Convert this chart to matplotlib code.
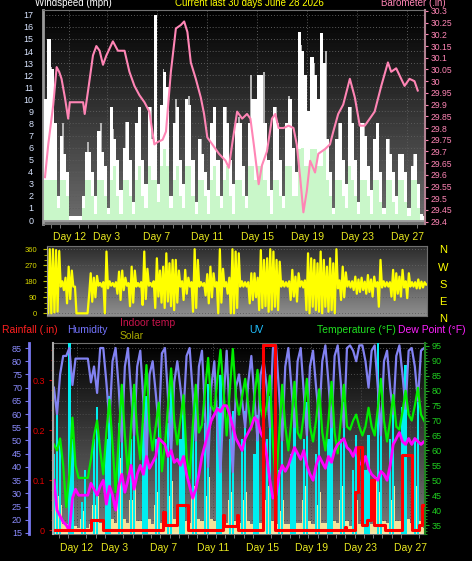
import numpy as np
import matplotlib
matplotlib.use("Agg")
import matplotlib.pyplot as plt
from matplotlib.colors import LinearSegmentedColormap
from matplotlib.ticker import MultipleLocator, FormatStrFormatter

W, H = 472, 561
PT = 72.0 / 100  # points per pixel

# x axis: days, 4 bins per day starting at day -2
day_ticks = [0, 3, 7, 11, 15, 19, 23, 27]
day_labels = ["Day 12", "Day 3", "Day 7", "Day 11", "Day 15", "Day 19", "Day 23", "Day 27"]

# windspeed (mph), 6 hour bins
wind_gust = [10, 15, 12.5, 8, 2, 7, 5.5, 4, 0.3, 0.3, 0.3, 0.3, 2, 5.6, 5.6, 4,
             2, 7.4, 5.6, 4.5, 1, 9.4, 6.7, 5, 2.5, 6, 8.1, 5, 1.5, 8, 9.4, 5,
             3, 9.4, 6.7, 17, 3, 9.5, 12.3, 11, 2, 8, 9.4, 5, 3, 10, 9.5, 5,
             1.5, 6.7, 5.5, 4, 2.5, 8, 9.4, 5, 2, 9.4, 8, 5, 3, 8, 8, 4.5,
             2, 8, 10, 10, 12, 12, 8, 5, 2.5, 9.4, 8, 5, 2, 8, 10, 6,
             4, 15.6, 14, 12, 9, 13.5, 12, 10, 15.5, 13, 6.7, 4, 1, 6.7, 8, 5,
             3, 9.4, 8, 5, 1.5, 8, 7, 4.5, 2.5, 6.7, 8, 4, 1, 6.7, 5.5, 4,
             2, 5.5, 5.5, 4, 1, 4.5, 5.5, 3, 0.5, 0.3]
wind_avg = [3.3, 3.3, 3.3, 3.3, 1, 3.3, 3.3, 2, 0, 0, 0, 0, 1, 3.3, 3.3, 2,
            0.5, 3.3, 3.3, 2, 0.5, 3.3, 4.5, 2, 0.5, 3.3, 3.3, 2, 0.5, 3.3, 4.5, 2,
            1, 4.5, 3.3, 3.3, 1.5, 4.5, 5.9, 4.5, 1, 3.3, 4.5, 2, 1, 4.5, 4.5, 2,
            0.5, 3.3, 3.3, 2, 0.5, 3.3, 4.5, 2, 1, 3.3, 4.5, 2, 0.5, 3.3, 3.3, 2,
            1, 4.5, 4.5, 3.3, 4.5, 4.5, 3.3, 2, 0.5, 3.3, 3.3, 2, 1, 4.5, 4.5, 2,
            2, 5.9, 6, 4.5, 4.5, 5.9, 5.9, 4.5, 4.5, 5.9, 3.3, 2, 0.5, 3.3, 3.3, 2,
            1, 4.5, 3.3, 2, 0.5, 3.3, 3.3, 2, 0.5, 3.3, 3.3, 1.5, 0.5, 3.3, 3.3, 1.5,
            0.5, 3.3, 3.3, 1.5, 0.3, 3.3, 3.3, 1, 0, 0]
hi_days = list(range(-2, 29))
wind_hi = [12.7, 8, 0, 6.5, 8, 7.5, 8.1, 9.4, 9.4, 12.5, 10, 10.3, 6.7, 9.4, 9.4, 8.5,
           12, 12.3, 9.4, 10.3, 14.5, 13, 14, 8, 9.4, 8, 8, 6.7, 5.5, 5.5, 0]

# barometer (in)
baro_day = [-1.94, -1.68, -1.28, -1.01, -0.81, -0.62, -0.35, -0.09, 0.04, 1.10, 1.23, 1.50,
            1.89, 2.16, 2.42, 2.69, 2.96, 3.48, 3.88, 4.41, 4.80, 5.20, 5.60, 6.00, 6.39,
            6.79, 7.05, 7.45, 7.72, 8.11, 8.51, 8.91, 9.17, 9.43, 9.70, 10.10, 10.50, 10.76,
            11.02, 11.42, 11.95, 12.48, 12.74, 13.00, 13.40, 13.80, 14.19, 14.46, 14.73, 15.12,
            15.38, 15.78, 16.18, 16.45, 16.71, 17.11, 17.50, 17.90, 18.16, 18.43, 18.69, 18.96,
            19.23, 19.62, 19.88, 20.42, 20.81, 21.08, 21.47, 21.87, 22.40, 22.80, 23.19, 23.59,
            23.99, 24.38, 24.91, 25.44, 25.70, 26.10, 26.50, 26.77, 27.16, 27.56, 27.82]
baro_val = [29.59, 29.73, 29.90, 30.06, 30.04, 30.01, 29.93, 29.84, 29.91, 29.91, 29.86, 29.96,
            30.11, 30.15, 30.13, 30.07, 30.11, 30.17, 30.13, 30.13, 30.04, 29.98, 29.94, 29.91, 29.87,
            29.73, 29.74, 29.75, 29.785, 30.04, 30.225, 30.24, 30.255, 30.21, 30.08, 30.01, 29.93, 29.86,
            29.76, 29.73, 29.69, 29.66, 29.63, 29.73, 29.87, 29.84, 29.86, 29.84, 29.73, 29.56,
            29.64, 29.70, 29.84, 29.86, 29.80, 29.80, 29.81, 29.80, 29.73, 29.59, 29.44, 29.53,
            29.66, 29.61, 29.69, 29.71, 29.73, 29.785, 29.86, 29.90, 30.01, 29.93, 29.81, 29.81,
            29.84, 29.87, 29.98, 30.08, 30.04, 30.055, 30.01, 29.98, 30.01, 30.00, 29.96]

# wind direction (deg), low / high within each 6 hour bin
dir_hi = [163, 360, 360, 355, 350, 180, 200, 262, 240, 150, 0, 0, 0, 0, 225, 200,
          210, 170, 175, 347, 180, 170, 175, 234, 240, 200, 170, 262, 240, 170, 175, 347,
          250, 170, 180, 309, 240, 262, 337, 281, 300, 300, 240, 180, 244, 200, 175, 360,
          300, 175, 170, 220, 262, 225, 175, 360, 250, 175, 200, 360, 347, 337, 180, 175,
          175, 225, 225, 200, 355, 300, 309, 360, 347, 300, 290, 180, 175, 180, 244, 206,
          225, 180, 185, 337, 309, 300, 281, 347, 300, 262, 309, 281, 360, 185, 262, 230,
          180, 180, 206, 190, 200, 178, 215, 190, 206, 175, 300, 180, 175, 175, 244, 225,
          206, 244, 180, 225, 175, 175, 190, 178, 175, 165]
dir_lo = [163, 0, 0, 5, 10, 150, 130, 56, 80, 150, 0, 0, 0, 0, 100, 65,
          90, 155, 150, 0, 140, 155, 150, 110, 75, 130, 155, 40, 60, 150, 150, 47,
          80, 155, 150, 30, 94, 60, 30, 66, 40, 18, 60, 150, 75, 110, 150, 9,
          30, 150, 155, 100, 56, 90, 150, 0, 60, 150, 110, 0, 0, 30, 150, 150,
          150, 56, 75, 90, 18, 30, 40, 9, 20, 37, 18, 150, 150, 150, 75, 94,
          66, 150, 145, 18, 0, 37, 18, 9, 0, 37, 9, 18, 0, 140, 75, 90,
          150, 145, 131, 110, 120, 131, 110, 120, 94, 150, 37, 145, 150, 150, 94, 75,
          110, 94, 145, 85, 150, 150, 140, 140, 145, 160]

# lower panel, 6 hour samples
temp = [62, 60, 64, 55, 41, 52, 71, 55, 50.8, 50.8, 50.8, 50.8, 57, 65, 70, 60,
        52, 66, 77, 62, 46, 64, 82, 65, 52, 68, 82, 66, 57, 73, 88.6, 68,
        60, 68, 76, 53, 62, 75, 87.5, 70, 62, 70, 78.5, 58, 50.6, 68, 82, 66,
        68.5, 80, 91, 75, 73, 84, 93.7, 80, 65, 80, 94, 78, 72, 78, 84, 75,
        67, 78, 87, 74, 70, 75, 85, 62, 49, 65, 82, 68, 60, 70, 83, 66,
        64, 72, 84, 68, 63, 70, 80.5, 66, 60, 70, 83, 66, 59, 70, 82, 68,
        67, 70, 72, 68, 65, 68, 74.3, 68, 65, 74, 84, 70, 63, 70, 78.6, 68,
        67, 73, 80, 72, 70, 75, 81, 72, 70, 68]
humidity = [70, 60, 75, 82, 82, 85, 71, 81, 81, 81, 81, 81, 72, 78, 68, 85,
            85, 72, 57, 80, 85, 70, 49.5, 78, 85, 68, 52, 78, 84, 65, 42, 75,
            80, 68, 55, 83, 85, 66, 45, 72, 80, 70, 60, 82, 85, 68, 50, 78,
            84, 60, 40, 70, 80, 55, 38, 65, 84, 58, 38, 70, 75, 65, 55, 72,
            82, 66, 50, 75, 80, 70, 55, 85, 86, 68, 50, 78, 85, 70, 55, 80,
            85, 68, 52, 78, 84, 70, 58, 80, 86, 72, 55, 82, 86, 72, 55, 85,
            86, 84, 80, 86, 86, 80, 70, 84, 86, 70, 52, 80, 84, 70, 60, 82,
            86, 75, 62, 84, 85, 78, 65, 84, 85, 84]
dew_point = [50, 40, 38, 36, 35, 33, 44, 47, 45, 45, 45, 45, 49, 47, 45, 48,
             50, 42, 48, 45, 40, 48, 52, 46, 50, 55, 47, 52, 55, 52, 58, 54,
             56, 58, 64, 63, 62, 58, 60, 56, 57, 55, 58, 52, 48, 44, 47, 52,
             58, 62, 66, 70, 72, 74, 73, 75, 75, 72, 68, 64, 62, 60, 64, 66,
             68, 71, 70, 66, 64, 58, 50, 44, 45, 52, 55, 53, 55, 58, 61, 59,
             57, 60, 55, 52, 50, 55, 58, 56, 54, 58, 56, 60, 62, 63, 64, 61,
             60, 58, 61, 56, 55, 58, 54, 52, 51, 50, 53, 52, 50, 55, 62, 64,
             66, 63, 62, 64, 62, 64, 63, 62, 63, 63]
uv = [5, 8.3, 6, 0, 0, 12, 6, 0, 0, 2, 4, 0, 0, 6, 8, 0,
      0, 6, 8.7, 0, 0, 7, 9, 0, 0, 6, 8.3, 0, 0, 7, 8.7, 0,
      0, 6, 7.9, 0, 0, 7, 9.4, 0, 0, 6, 8.3, 0, 0, 7, 9, 0,
      0, 7, 9.4, 0, 0, 8, 10, 0, 0, 6, 7.7, 0, 0, 6, 7.7, 0,
      0, 5, 7.5, 0, 0, 6, 8.7, 0, 0, 4, 6.2, 0, 0, 5, 7.3, 0,
      0, 6, 8.3, 0, 0, 5, 7.3, 0, 0, 6, 7.7, 0, 0, 6, 8.3, 0,
      0, 4, 6.2, 0, 0, 4, 6.2, 0, 0, 12, 7, 0, 0, 6, 8.3, 0,
      0, 8, 10.6, 0, 0, 6, 8.3, 0, 0, 0]
solar = [0.1, 0.2, 0.15, 0.05, 0.05, 0.25, 0.15, 0.04, 0.03, 0.08, 0.12, 0.03, 0.05, 0.15, 0.2, 0.06,
         0.06, 0.18, 0.25, 0.08, 0.06, 0.2, 0.4, 0.08, 0.06, 0.18, 0.25, 0.07, 0.07, 0.2, 0.3, 0.08,
         0.05, 0.15, 0.22, 0.06, 0.07, 0.2, 0.28, 0.08, 0.06, 0.18, 0.25, 0.07, 0.06, 0.2, 0.25, 0.08,
         0.07, 0.2, 0.3, 0.08, 0.07, 0.22, 0.3, 0.08, 0.06, 0.18, 0.22, 0.07, 0.06, 0.18, 0.22, 0.07,
         0.05, 0.15, 0.2, 0.06, 0.06, 0.18, 0.25, 0.07, 0.05, 0.12, 0.18, 0.05, 0.05, 0.15, 0.2, 0.06,
         0.06, 0.18, 0.25, 0.07, 0.05, 0.15, 0.22, 0.06, 0.06, 0.18, 0.22, 0.07, 0.06, 0.18, 0.25, 0.07,
         0.04, 0.12, 0.18, 0.05, 0.04, 0.12, 0.18, 0.05, 0.07, 0.3, 0.22, 0.07, 0.06, 0.18, 0.25, 0.07,
         0.07, 0.22, 0.33, 0.08, 0.06, 0.18, 0.25, 0.07, 0.03, 0]
rain_day = [-1.95, 1.11, 2.13, 6.99, 7.13, 8.08, 9.02, 11.81, 11.92, 12.95, 13.08, 15.11, 16.05,
            21.73, 21.8, 22.54, 22.79, 23.11, 23.52, 23.84, 24.08, 24.98, 26.35, 27.17, 27.73,
            27.98, 28.2]
rain_val = [0, 0.02, 0, 0.037, 0.01, 0.05, 0, 0.03, 0.008, 0.03, 0, 0.37, 0,
            0.007, 0, 0.076, 0.166, 0.01, 0.02, 0.1, 0.01, 0, 0.15, 0, 0.01,
            0.05, 0.05]

plt.rcParams["font.family"] = ["Liberation Sans", "DejaVu Sans"]
fig = plt.figure(figsize=(W / 100, H / 100), dpi=100, facecolor="black")


def px_axes(l, t, r, b):
    return fig.add_axes([l / W, 1 - b / H, (r - l) / W, (b - t) / H])


def shade(ax, top, bottom):
    cmap = LinearSegmentedColormap.from_list("bg", [bottom, top])
    ax.imshow(np.linspace(0, 1, 64).reshape(-1, 1), cmap=cmap, origin="lower",
              aspect="auto", extent=(0, 1, 0, 1), transform=ax.transAxes, zorder=0)


def ftext(x, y, s, color, size=7.5, ha="left"):
    fig.text(x / W, 1 - y / H, s, color=color, fontsize=size, ha=ha, va="center")


def day_axis(ax, pad):
    ax.set_xticks(day_ticks)
    ax.set_xticklabels(day_labels)
    ax.xaxis.set_minor_locator(MultipleLocator(0.75))
    ax.tick_params(axis="x", which="major", length=0, pad=pad, labelsize=7.5, labelcolor="#e8e820")
    ax.tick_params(axis="x", which="minor", length=3, color="#8a8a8a")


# ---------------- wind / barometer ----------------
t1 = -2 + 0.25 * np.arange(len(wind_gust))
ax1 = px_axes(43, 10, 425, 224)
shade(ax1, "#000000", "#6e6e6e")
ax1.bar(np.array(hi_days) + 0.45, wind_hi, 0.15, align="edge", color="#b4b4b4", zorder=2)
ax1.bar(t1, wind_gust, 0.25, align="edge", color="white", zorder=3)
ax1.bar(t1, wind_avg, 0.25, align="edge", color="#c9f7c9", zorder=4)
ax1.axhline(0, color="#a0a0a0", lw=2, zorder=2.5)
ax1.set_xlim(-2.1, 28.4)
ax1.set_ylim(-0.33, 17.4)
ax1.set_yticks(range(18))
day_axis(ax1, 6)
ax1.tick_params(axis="y", length=0, pad=7, labelsize=6.5, labelcolor="#d8e4ff")
ax1.grid(True, color="#5c5c5c", linestyle=(0, (1, 2)), lw=0.7)
ax1.set_axisbelow(True)
for s in ax1.spines.values():
    s.set_color("#707070")
ax1.spines["left"].set_color("#9a9a9a")
ax1.spines["left"].set_linewidth(2)
ax1.spines["right"].set_visible(False)

ax1b = ax1.twinx()
ax1b.plot(baro_day, baro_val, color="#ff85b5", lw=1.5)
ax1b.set_ylim(29.39, 30.304)
ax1b.set_yticks(np.round(np.arange(29.4, 30.31, 0.05), 2))
ax1b.yaxis.set_major_formatter(FormatStrFormatter("%g"))
ax1b.tick_params(axis="y", length=2, color="#ff85b5", labelsize=6.2, labelcolor="#ff85b5", pad=2)
for s in ("top", "bottom", "left"):
    ax1b.spines[s].set_visible(False)
ax1b.spines["right"].set_color("#b08090")
ax1b.spines["right"].set_linewidth(1.5)

ftext(35, 3.5, "Windspeed (mph)", "white", size=7)
ftext(175, 3.5, "Current last 30 days June 28 2026", "#ffff00", size=7)
ftext(446, 3.5, "Barometer (.in)", "#ff85b5", size=7, ha="right")

# ---------------- wind direction ----------------
ax2 = px_axes(47, 246, 427, 316)
shade(ax2, "#2c2c2c", "#8e8e8e")
zx = np.column_stack([t1 + 0.06, t1 + 0.19]).ravel()
zy = np.column_stack([dir_lo, dir_hi]).ravel()
ax2.plot(zx, zy, color="#ffff00", lw=1.6)
ax2.set_xlim(-1.78, 28.38)
ax2.set_ylim(-15, 378)
ax2.set_xticks([])
ax2.set_yticks([0, 90, 180, 270, 360])
ax2.yaxis.set_minor_locator(MultipleLocator(30))
ax2.tick_params(axis="y", which="major", length=3, color="#c0c000", labelsize=5.5,
                labelcolor="#d8d800", pad=4)
ax2.tick_params(axis="y", which="minor", length=2, color="#c0c000")
ax2.grid(True, axis="y", color="#606060", linestyle=(0, (1, 2)), lw=0.7)
ax2.set_axisbelow(True)
for s in ax2.spines.values():
    s.set_color("#707070")
ax2.spines["left"].set_color("#9a9a9a")

for y, s in zip([250, 268, 285, 302, 319], ["N", "W", "S", "E", "N"]):
    ftext(443, y, s, "#ffff00", size=8, ha="center")

# ---------------- temperature / humidity / rain ----------------
t3 = -2 + 0.25 * np.arange(len(temp))
ax3 = px_axes(53, 343, 425, 534)
shade(ax3, "#000000", "#7c7c7c")
ax3.set_xlim(-1.95, 28.2)
ax3.set_ylim(14.6, 86.9)
ax3.set_yticks(range(15, 90, 5))
day_axis(ax3, 6.5)
ax3.tick_params(axis="y", length=3, color="#7878f0", labelsize=6.5, labelcolor="#8c8cff", pad=2)
ax3.spines["left"].set_position(("outward", 24 * PT))
ax3.spines["left"].set_color("#7878f0")
ax3.spines["left"].set_linewidth(2)
ax3.spines["right"].set_visible(False)
ax3.spines["top"].set_color("#707070")
ax3.spines["bottom"].set_color("#707070")
ax3.grid(True, color="#4e4e4e", linestyle=(0, (1, 2)), lw=0.7)
ax3.set_axisbelow(True)

ax_sol = ax3.twinx()
ax_sol.axis("off")
ax_sol.set_ylim(0, 1)
ax_sol.bar(t3, solar, 0.25, align="edge", color="#f3e29a")
ax_sol.axhline(0, color="#f3e6a8", lw=3)

ax_uv = ax3.twinx()
ax_uv.axis("off")
ax_uv.set_ylim(0, 12)
ax_uv.bar(t3 + 0.03, uv, 0.19, align="edge", color="#00eef0")

ax_h = ax3.twinx()
ax_h.axis("off")
ax_h.set_ylim(14.6, 86.9)
ax_h.plot(t3 + 0.125, humidity, color="#8282f2", lw=1.6)

ax_t = ax3.twinx()
ax_t.plot(t3 + 0.125, temp, color="#00ee00", lw=1.6)
ax_t.plot(t3 + 0.125, dew_point, color="#ff00ff", lw=2)
ax_t.set_ylim(32, 96)
ax_t.set_yticks(range(35, 100, 5))
ax_t.yaxis.set_minor_locator(MultipleLocator(1))
ax_t.tick_params(axis="y", which="major", length=3, color="#20b020", labelsize=6.5,
                 labelcolor="#20d020", pad=2)
ax_t.tick_params(axis="y", which="minor", length=1.5, color="#20b020")
for s in ("top", "bottom", "left"):
    ax_t.spines[s].set_visible(False)
ax_t.spines["right"].set_color("#208020")
ax_t.spines["right"].set_linewidth(1.5)

ax_r = ax3.twinx()
ax_r.step(rain_day, rain_val, where="post", color="#ff0000", lw=2.2)
ax_r.set_ylim(-0.008, 0.374)
ax_r.yaxis.tick_left()
ax_r.set_yticks([0, 0.1, 0.2, 0.3])
ax_r.yaxis.set_minor_locator(MultipleLocator(0.02))
ax_r.yaxis.set_major_formatter(FormatStrFormatter("%g"))
ax_r.tick_params(axis="y", which="major", length=3, color="#d00000", labelsize=6.5,
                 labelcolor="#e00000", pad=3)
ax_r.tick_params(axis="y", which="minor", length=1.5, color="#d00000")
for s in ("top", "bottom", "right"):
    ax_r.spines[s].set_visible(False)
ax_r.spines["left"].set_color("#a8a8a8")
ax_r.spines["left"].set_linewidth(1.5)

ftext(2, 330, "Rainfall (.in)", "#ff2020")
ftext(67, 330, "Humidity", "#7474ff")
ftext(120, 323, "Indoor temp", "#c8144c")
ftext(120, 336, "Solar", "#a8a800")
ftext(249, 330, "UV", "#20c0ff")
ftext(317, 330, "Temperature (°F)", "#20e020")
ftext(398, 330, "Dew Point (°F)", "#ff20ff")

fig.savefig("out.png", dpi=100, facecolor="black")
